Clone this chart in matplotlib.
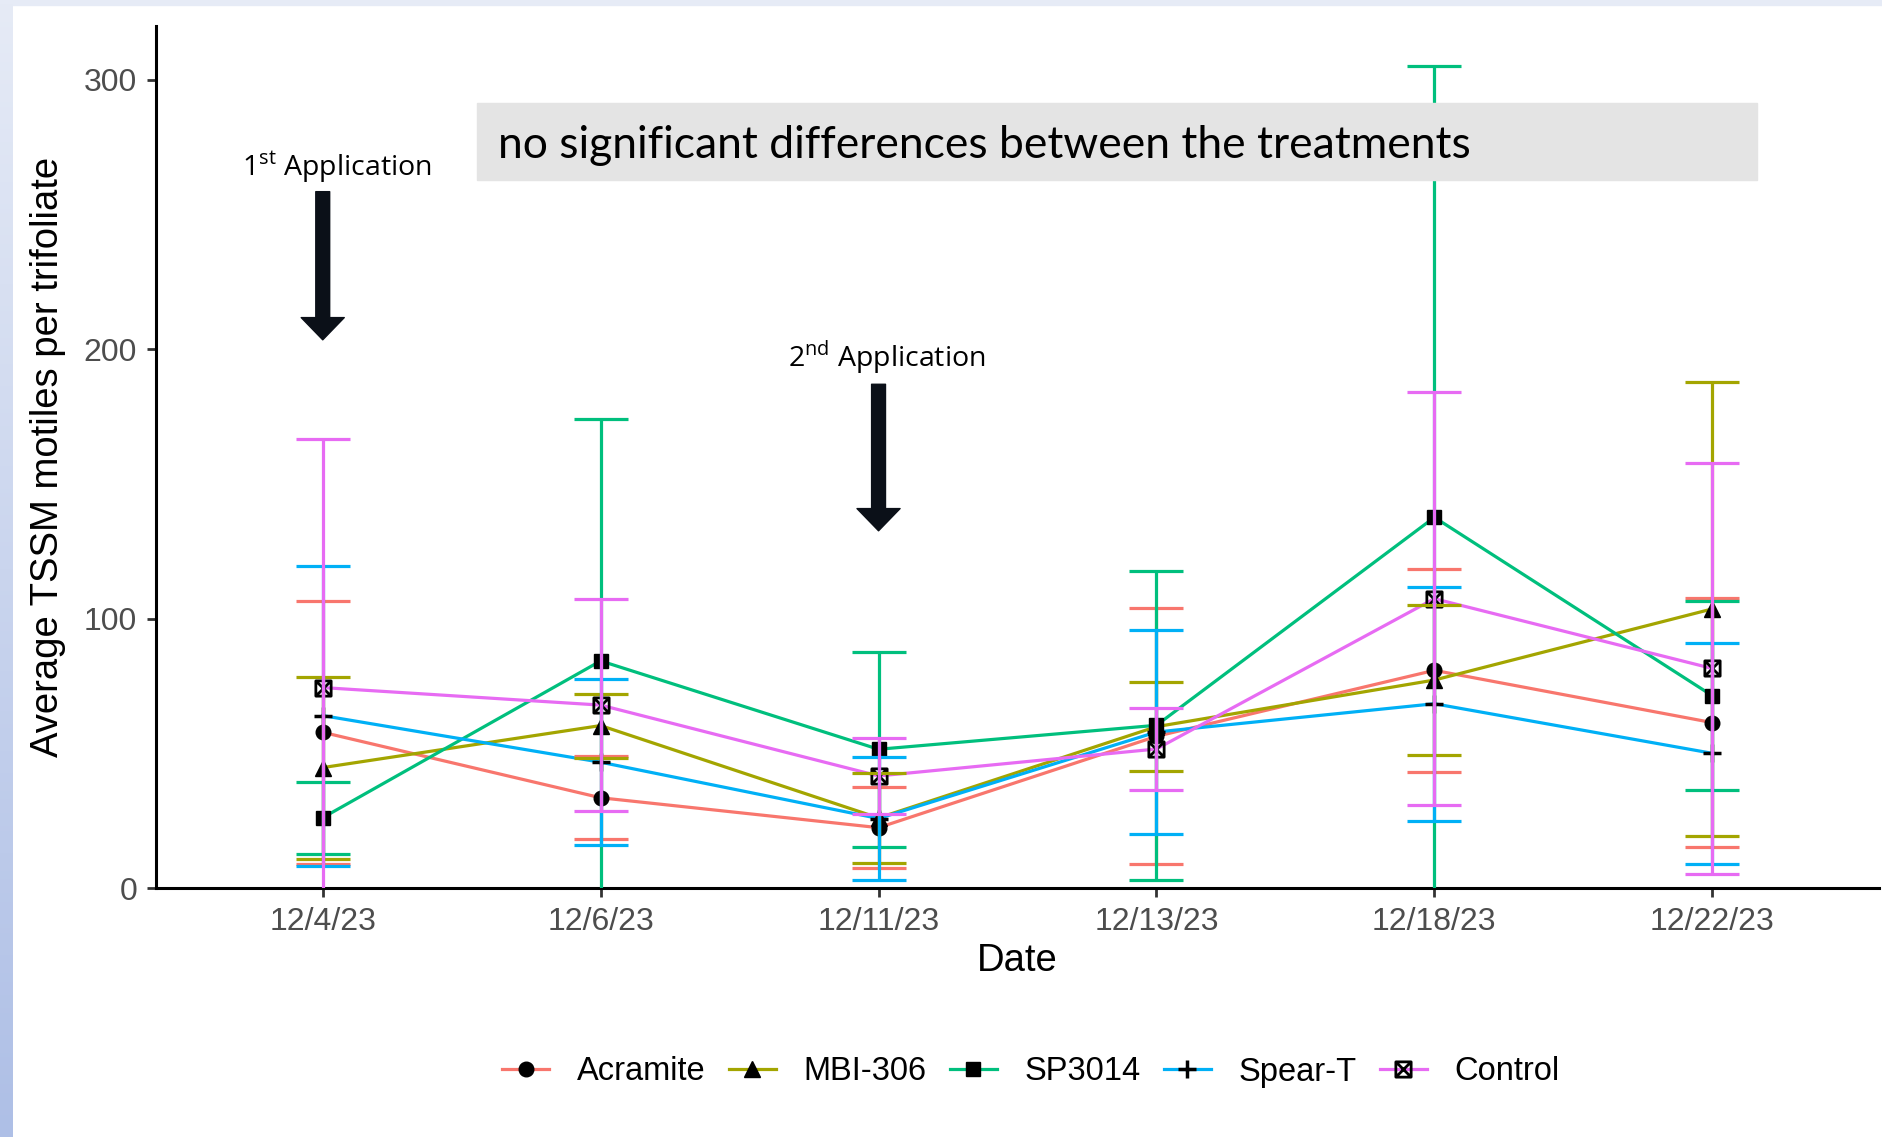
import matplotlib
matplotlib.use('Agg')
import matplotlib.pyplot as plt
import numpy as np
from matplotlib.path import Path
from matplotlib.patches import Rectangle
from matplotlib.lines import Line2D
from matplotlib.colors import LinearSegmentedColormap

plt.rcParams['font.family'] = ['Liberation Sans', 'DejaVu Sans']

# data (mean and +/- error per date)
dates = ['12/4/23', '12/6/23', '12/11/23', '12/13/23', '12/18/23', '12/22/23']
treatments = ['Acramite', 'MBI-306', 'SP3014', 'Spear-T', 'Control']

acramite_mean = [57.8, 33.5, 22.4, 56.3, 80.8, 61.4]
acramite_err = [48.8, 15.4, 15.0, 47.5, 37.6, 46.3]
mbi306_mean = [44.7, 60.3, 26.0, 59.9, 77.2, 103.6]
mbi306_err = [33.8, 11.9, 16.6, 16.5, 27.9, 84.3]
sp3014_mean = [26.1, 84.3, 51.5, 60.4, 137.6, 71.4]
sp3014_err = [13.4, 89.9, 36.2, 57.3, 167.6, 35.0]
speart_mean = [64.0, 46.7, 25.8, 57.9, 68.4, 50.0]
speart_err = [55.7, 30.9, 22.8, 38.0, 43.4, 41.1]
control_mean = [74.4, 67.9, 41.6, 51.6, 107.4, 81.5]
control_err = [92.1, 39.3, 14.0, 15.2, 76.6, 76.4]

means = [acramite_mean, mbi306_mean, sp3014_mean, speart_mean, control_mean]
errs = [acramite_err, mbi306_err, sp3014_err, speart_err, control_err]
colors = ['#F8766D', '#A3A500', '#00BF7D', '#00B0F6', '#E76BF3']

# square with a cross (ggplot shape 7)
sq_x = Path([(-1, -1), (1, -1), (1, 1), (-1, 1), (-1, -1), (-1, -1), (1, 1), (-1, 1), (1, -1)],
            [Path.MOVETO, Path.LINETO, Path.LINETO, Path.LINETO, Path.CLOSEPOLY,
             Path.MOVETO, Path.LINETO, Path.MOVETO, Path.LINETO])
marker_kw = [
    dict(marker='o', markersize=10.5, markerfacecolor='black', markeredgecolor='black'),
    dict(marker='^', markersize=12, markerfacecolor='black', markeredgecolor='black'),
    dict(marker='s', markersize=10.5, markerfacecolor='black', markeredgecolor='black'),
    dict(marker='+', markersize=13, markeredgecolor='black', markeredgewidth=2.5),
    dict(marker=sq_x, markersize=11, markerfacecolor='none', markeredgecolor='black', markeredgewidth=2),
]

fig = plt.figure(figsize=(18.83, 11.37), dpi=100)
fig.patch.set_facecolor('white')

# slide background edges
strip = fig.add_axes([0, 0, 13 / 1883, 1])
edge_cmap = LinearSegmentedColormap.from_list('edge', ['#aebfe6', '#e6ebf6'])
strip.imshow(np.linspace(0, 1, 256).reshape(-1, 1), aspect='auto', cmap=edge_cmap, origin='lower')
strip.axis('off')
fig.add_artist(Rectangle((0, 1 - 5 / 1137), 1, 5 / 1137, transform=fig.transFigure,
                         color='#e6ebf6', zorder=0))

ax = fig.add_axes([156 / 1883, 249 / 1137, 1723 / 1883, 862 / 1137])
x = np.arange(len(dates))

for i in range(len(treatments)):
    ax.plot(x, means[i], color=colors[i], lw=2.3, zorder=2)
for i in range(len(treatments)):
    ax.plot(x, means[i], ls='none', zorder=3, **marker_kw[i])
for i in range(len(treatments)):
    ax.errorbar(x, means[i], yerr=errs[i], fmt='none', ecolor=colors[i], elinewidth=2.3,
                capsize=19.5, capthick=2.3, zorder=4 + i * 0.1)

ax.set_xlim(-0.6, len(dates) - 0.4)
ax.set_ylim(0, 320)
ax.set_xticks(x)
ax.set_xticklabels(dates)
ax.set_yticks([0, 100, 200, 300])
for s in ['top', 'right']:
    ax.spines[s].set_visible(False)
for s in ['left', 'bottom']:
    ax.spines[s].set_linewidth(2.2)
    ax.spines[s].set_color('black')
ax.tick_params(axis='both', labelsize=23, labelcolor='#4D4D4D', color='#333333',
               width=2, length=6.5, pad=7)

ax.set_ylabel('Average TSSM motiles per trifoliate', fontsize=27.5, va='center')
ax.yaxis.set_label_coords(-0.0627, 0.5)
ax.set_xlabel('Date', fontsize=27.5, va='center')
ax.xaxis.set_label_coords(0.5, -0.0847)

# application arrows
arrow_style = 'simple,head_length=16,head_width=31,tail_width=10'
ax.annotate('', xy=(0, 203.5), xytext=(0, 258.5),
            arrowprops=dict(arrowstyle=arrow_style, mutation_scale=1, color='#0b1018',
                            shrinkA=0, shrinkB=0), zorder=6)
ax.annotate('', xy=(2, 132.6), xytext=(2, 187),
            arrowprops=dict(arrowstyle=arrow_style, mutation_scale=1, color='#0b1018',
                            shrinkA=0, shrinkB=0), zorder=6)
ax.text(0.05, 267.5, r'1$^{\mathregular{st}}$ Application', fontsize=20.5, ha='center', va='center',
        family=['Open Sans', 'DejaVu Sans'], zorder=6)
ax.text(2.03, 197, r'2$^{\mathregular{nd}}$ Application', fontsize=20.5, ha='center', va='center',
        family=['Open Sans', 'DejaVu Sans'], zorder=6)

# grey note box
fig.add_artist(Rectangle((477 / 1883, 1 - 180 / 1137), 1280 / 1883, 77 / 1137,
                         transform=fig.transFigure, color='#e4e4e4', zorder=5))
note = fig.text(498 / 1883, 1 - 145 / 1137, 'no significant differences between the treatments',
                fontsize=30, ha='left', va='center', family=['Lato', 'DejaVu Sans'], zorder=6)
fig.canvas.draw()
w = note.get_window_extent().width
note.set_fontsize(30 * 972 / w)

handles = [Line2D([0], [0], color=colors[i], lw=2.3, **marker_kw[i]) for i in range(len(treatments))]
fig.legend(handles, treatments, loc='center', bbox_to_anchor=(1031 / 1883, 1 - 1072 / 1137),
           ncol=5, frameon=False, fontsize=23.5, handlelength=1.45, handletextpad=0.85,
           columnspacing=0.7)

fig.savefig('out.png', dpi=100, facecolor='white')
